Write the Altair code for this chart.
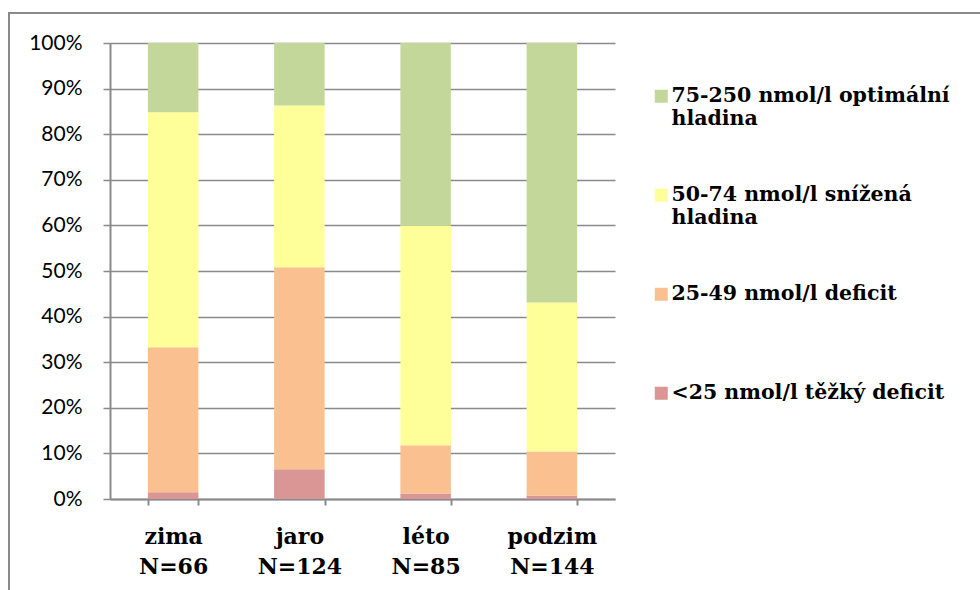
import altair as alt
import pandas as pd

# Seasons on the x axis and the number of samples in each
seasons = ["zima", "jaro", "léto", "podzim"]
sample_sizes = [66, 124, 85, 144]

# Vitamin D level categories, from the bottom of the stack to the top
levels = [
    "<25 nmol/l těžký deficit",
    "25-49 nmol/l deficit",
    "50-74 nmol/l snížená hladina",
    "75-250 nmol/l optimální hladina",
]
level_colors = ["#D99694", "#FAC090", "#FFFF99", "#C4D79B"]

# Share of samples (%) in each category, per season
severe_pct = [1.5, 6.5, 1.2, 0.7]
deficit_pct = [31.8, 44.3, 10.6, 9.7]
reduced_pct = [51.5, 35.5, 48.2, 32.7]
optimal_pct = [15.2, 13.7, 40.0, 56.9]

y_ticks = list(range(0, 101, 10))

series = [severe_pct, deficit_pct, reduced_pct, optimal_pct]
season_labels = [f"{s}\nN={n}" for s, n in zip(seasons, sample_sizes)]
rows = []
for i, label in enumerate(season_labels):
    for k, level in enumerate(levels):
        rows.append({"season": label, "level": level, "stack": k, "pct": series[k][i]})
df = pd.DataFrame(rows)

GRAY = "#8a8a8a"
SERIF = "DejaVu Serif"

bars = alt.Chart(df).mark_bar().encode(
    x=alt.X(
        "season:N",
        sort=season_labels,
        scale=alt.Scale(paddingInner=0.6, paddingOuter=0.3),
        axis=alt.Axis(
            title=None,
            labelExpr="split(datum.label, '\\n')",
            labelAngle=0,
            labelFont=SERIF,
            labelFontWeight="bold",
            labelFontSize=22,
            labelLineHeight=30,
            labelBaseline="top",
            labelPadding=21,
            labelColor="#000000",
            tickBand="extent",
            tickSize=6,
            tickColor=GRAY,
            tickWidth=2,
            domainColor=GRAY,
            domainWidth=2,
            grid=False,
        ),
    ),
    y=alt.Y(
        "pct:Q",
        stack="zero",
        scale=alt.Scale(domain=[0, 100], nice=False),
        axis=alt.Axis(
            title=None,
            values=y_ticks,
            labelExpr="datum.value + '%'",
            labelFont="Lato",
            labelFontSize=21,
            labelPadding=21,
            labelColor="#000000",
            tickSize=7,
            tickColor=GRAY,
            tickWidth=1.5,
            domainColor=GRAY,
            domainWidth=2,
            grid=True,
            gridColor=GRAY,
            gridWidth=1.5,
        ),
    ),
    color=alt.Color(
        "level:N",
        scale=alt.Scale(domain=levels[::-1], range=level_colors[::-1]),
        legend=alt.Legend(
            title=None,
            orient="none",
            legendX=541,
            legendY=43,
            symbolType="square",
            symbolSize=169,
            symbolStrokeWidth=0,
            labelFont=SERIF,
            labelFontWeight="bold",
            labelFontSize=20.5,
            labelColor="#000000",
            labelOffset=0,
            labelLimit=420,
            labelBaseline="middle",
            labelExpr=(
                "indexof(datum.label, ' hladina') >= 0 ? "
                "split(replace(datum.label, ' hladina', '|hladina'), '|') : "
                "[datum.label, ' ']"
            ),
            rowPadding=55,
            padding=0,
        ),
    ),
    order=alt.Order("stack:Q", sort="ascending"),
)

# Frame around the chart area
frame = alt.Chart(pd.DataFrame({"k": [0]})).mark_rect(
    filled=False, stroke=GRAY, strokeWidth=2
).encode(
    x=alt.value(-101), x2=alt.value(1000), y=alt.value(-30), y2=alt.value(700)
)

chart = alt.layer(frame, bars).properties(
    width=505,
    height=456,
    autosize=alt.AutoSizeParams(type="none"),
    padding={"left": 110, "top": 43, "right": 365, "bottom": 91},
    background="#ffffff",
).configure_view(stroke=None)

chart.save("out.html", embed_options={"renderer": "svg", "actions": False})
